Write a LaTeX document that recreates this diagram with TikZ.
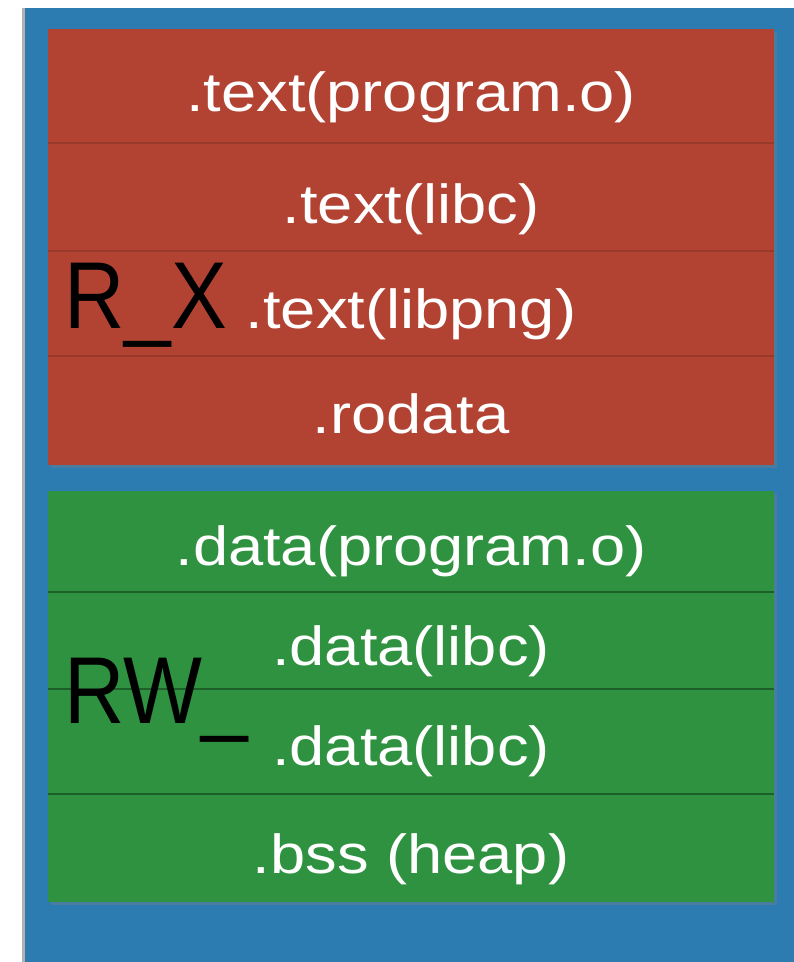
\documentclass[tikz,border=0pt]{standalone}
\usepackage{fontspec}
\setmainfont{Liberation Sans}
\newfontfamily\lblfont[FakeStretch=1.15]{Liberation Sans}
\newfontfamily\bigfont[FakeStretch=0.88]{Liberation Sans}
\usetikzlibrary{shadows}
\definecolor{bgblue}{RGB}{44,124,178}
\definecolor{segred}{RGB}{178,67,51}
\definecolor{seggreen}{RGB}{46,146,64}
\tikzset{
  lbl/.style={text=white, inner sep=0pt, anchor=base, font=\lblfont\fontsize{55}{60}\selectfont},
  biglbl/.style={text=black, inner sep=0pt, anchor=base west, font=\bigfont\fontsize{95}{100}\selectfont},
  segbox/.style={draw=none, inner sep=0pt, drop shadow={opacity=0.35, shadow xshift=3pt, shadow yshift=-3pt}},
  divider/.style={line width=1.3pt, draw opacity=0.35, draw=black},
}
\begin{document}
\begin{tikzpicture}[x=1pt, y=-1pt]
\useasboundingbox (0,0) rectangle (794,962);
\fill[white] (0,0) rectangle (794,962);
% background panel
\fill[black!30] (22,8) rectangle (25,962);
\fill[bgblue] (25,8) rectangle (794,962);
% red segment
\path[segbox, fill=segred] (48,29) rectangle (774,465);
\coordinate (r1) at (48,143); \coordinate (r1e) at (774,143);
\coordinate (r2) at (48,251); \coordinate (r2e) at (774,251);
\coordinate (r3) at (48,356); \coordinate (r3e) at (774,356);
\draw[divider, draw opacity=0.15] (r1) -- (r1e);
\draw[divider, draw opacity=0.15] (r2) -- (r2e);
\draw[divider, draw opacity=0.15] (r3) -- (r3e);
% green segment
\path[segbox, fill=seggreen] (48,491) rectangle (774,902);
\coordinate (g1) at (48,592); \coordinate (g1e) at (774,592);
\coordinate (g2) at (48,689); \coordinate (g2e) at (774,689);
\coordinate (g3) at (48,794); \coordinate (g3e) at (774,794);
\draw[divider] (g1) -- (g1e);
\draw[divider] (g2) -- (g2e);
\draw[divider] (g3) -- (g3e);
% labels
\node[lbl] (t1) at (411,111) {.text(program.o)};
\node[lbl] (t2) at (411,223) {.text(libc)};
\node[lbl] (t3) at (411,328) {.text(libpng)};
\node[lbl] (t4) at (411,433) {.rodata};
\node[lbl] (d1) at (411,565) {.data(program.o)};
\node[lbl] (d2) at (411,665) {.data(libc)};
\node[lbl] (d3) at (411,765) {.data(libc)};
\node[lbl] (d4) at (411,873) {.bss (heap)};
\node[biglbl] (rx) at (64,328) {R\_X};
\node[biglbl] (rw) at (64,723) {RW\_};
\end{tikzpicture}
\end{document}
